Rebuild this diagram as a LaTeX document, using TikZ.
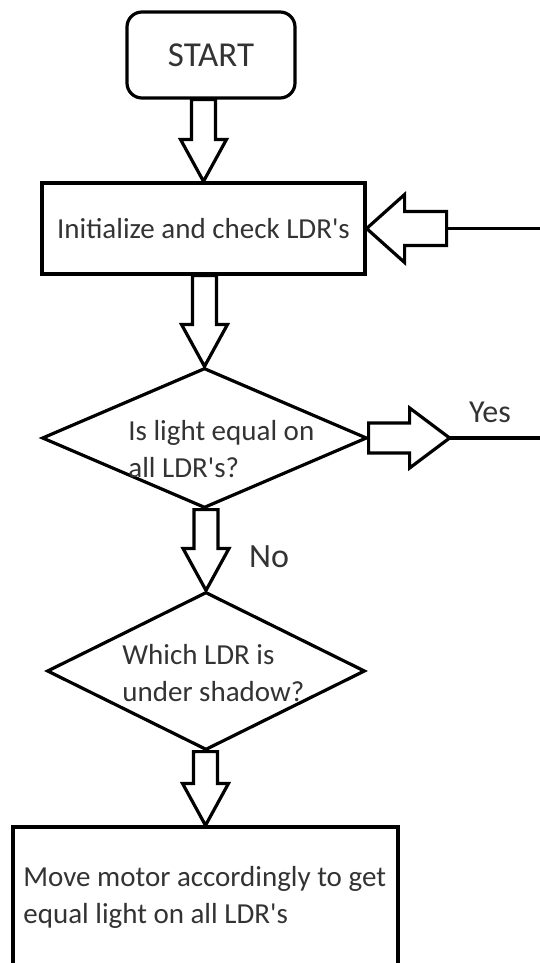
\documentclass[tikz,border=0pt]{standalone}
\usepackage{fontspec}
\setmainfont{Carlito}[Ligatures=TeXOff]
\usetikzlibrary{shapes.geometric,calc}

\definecolor{inkgray}{gray}{0.2}

\tikzset{
  box/.style={draw, line width=1.6pt, inner sep=0pt, text=inkgray},
  roundbox/.style={box, rounded corners=7.5pt},
  decision/.style={draw, diamond, line width=1.6pt, inner sep=0pt},
  caption/.style={text=inkgray, align=left, inner sep=0pt, anchor=west},
  blockarrow/.style={draw, line width=1.6pt, line join=miter, fill=white},
  wire/.style={draw, line width=1.6pt},
}

% hollow block arrows, from #1 to the tip #2
\newcommand{\arrowdown}[2]{%
  \draw[blockarrow] let \p1=(#1), \p2=(#2) in
    (\x2-6pt,\y1) -- (\x2-6pt,\y2+21pt) -- (\x2-11.5pt,\y2+21pt) -- (\x2,\y2)
    -- (\x2+11.5pt,\y2+21pt) -- (\x2+6pt,\y2+21pt) -- (\x2+6pt,\y1) -- cycle;}
\newcommand{\arrowright}[2]{%
  \draw[blockarrow] let \p1=(#1), \p2=(#2) in
    (\x1,\y1+7.5pt) -- (\x2-20pt,\y1+7.5pt) -- (\x2-20pt,\y1+15pt) -- (\x2,\y1)
    -- (\x2-20pt,\y1-15pt) -- (\x2-20pt,\y1-7.5pt) -- (\x1,\y1-7.5pt) -- cycle;}
\newcommand{\arrowleft}[2]{%
  \draw[blockarrow] let \p1=(#1), \p2=(#2) in
    (\x1,\y2+8.5pt) -- (\x2+19pt,\y2+8.5pt) -- (\x2+19pt,\y2+17pt) -- (\x2,\y2)
    -- (\x2+19pt,\y2-17pt) -- (\x2+19pt,\y2-8.5pt) -- (\x1,\y2-8.5pt) -- cycle;}

\begin{document}
\begin{tikzpicture}[x=0.5pt, y=-0.5pt, font=\fontsize{14.5}{18.5}\selectfont]
    \clip (0,0) rectangle (540,963);

    % Blocks
    \node[roundbox, minimum width=84pt, minimum height=43pt, font=\fontsize{17.5}{20}\selectfont] (start) at (211,55) {START};
    \node[box, minimum width=161.5pt, minimum height=45.5pt] (init) at (203.5,228.5) {Initialize and check LDR's};
    \node[decision, minimum width=162.5pt, minimum height=70pt] (equal) at (204.5,438) {};
    \node[caption] (equaltxt) at (128,449) {Is light equal on\\all LDR's?};
    \node[decision, minimum width=159pt, minimum height=79pt] (which) at (206,671) {};
    \node[caption] (whichtxt) at (122,673) {Which LDR is\\under shadow?};
    \node[box, minimum width=192.5pt, minimum height=86.5pt] (move) at (205.5,913.5) {};
    \node[caption] (movetxt) at (23,897) {Move motor accordingly to get\\equal light on all LDR's};

    % Labels
    \node[text=inkgray, font=\fontsize{16}{18}\selectfont] (yes) at (490,412) {Yes};
    \node[text=inkgray, font=\fontsize{17}{19}\selectfont] (no) at (269,557) {No};

    % Free ends at the right margin
    \coordinate (loopbase) at ($(init.east)+(80,0)$);
    \coordinate (loopend) at ($(init.east)+(175,0)$);
    \coordinate (yestip) at ($(equal.east)+(81,0)$);
    \coordinate (yesend) at ($(equal.east)+(173,0)$);

    % Arrows
    \arrowdown{start.south}{init.north}
    \arrowdown{init.south}{equal.north}
    \arrowdown{equal.south}{which.north}
    \arrowdown{which.south}{move.north}
    \arrowright{equal.east}{yestip}
    \arrowleft{loopbase}{init.east}
    \draw[wire] (yestip) -- (yesend);
    \draw[wire] (loopbase) -- (loopend);
\end{tikzpicture}
\end{document}
